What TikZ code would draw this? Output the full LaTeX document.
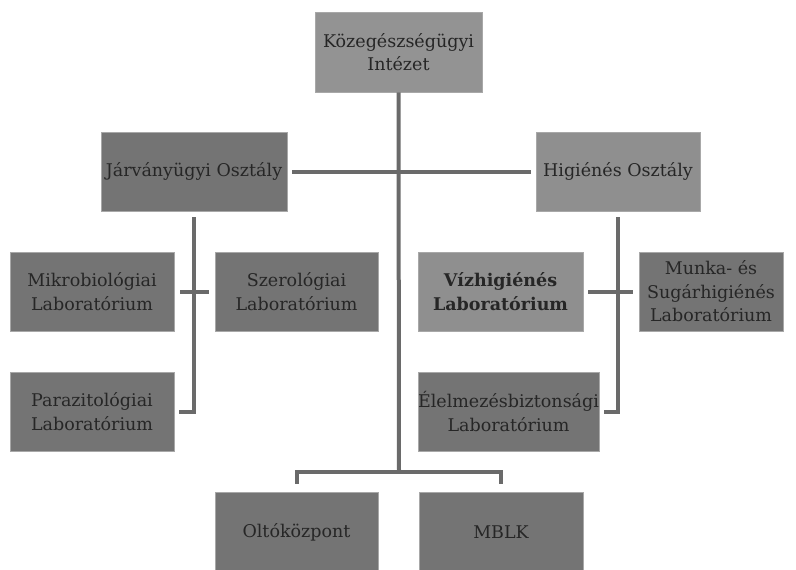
\documentclass[tikz,border=0pt]{standalone}
\usepackage{fontspec}
\setmainfont{DejaVu Serif}
\usetikzlibrary{calc}
\definecolor{boxdark}{HTML}{747474}
\definecolor{boxlight}{HTML}{8F8F8F}
\definecolor{boxtop}{HTML}{939393}
\definecolor{edgegray}{HTML}{A8A8A8}
\definecolor{linegray}{HTML}{6A6A6A}
\definecolor{txt}{HTML}{262626}
\begin{document}
\begin{tikzpicture}[x=1pt,y=-1pt,
  orgbox/.style={draw=edgegray, line width=0.8pt, text=txt, align=center,
    inner sep=0pt, font=\fontsize{17.5}{23.5}\selectfont, anchor=center},
  conn/.style={draw=linegray, line width=4pt, line cap=butt, line join=miter}]
\useasboundingbox (0,0) rectangle (796,570);
\fill[white] (0,0) rectangle (796,570);
\node[orgbox, fill=boxtop, minimum width=167pt, minimum height=80pt] (kozeg) at (398.5,52) {Közegészségügyi\\Intézet};
\node[orgbox, fill=boxdark, minimum width=186pt, minimum height=79pt] (jarv) at (194,171.5) {Járványügyi Osztály};
\node[orgbox, fill=boxlight, minimum width=164pt, minimum height=79pt] (hig) at (618,171.5) {Higiénés Osztály};
\node[orgbox, fill=boxdark, minimum width=164pt, minimum height=79pt] (mikro) at (92,291.5) {Mikrobiológiai\\Laboratórium};
\node[orgbox, fill=boxdark, minimum width=163pt, minimum height=79pt] (szero) at (296.5,291.5) {Szerológiai\\Laboratórium};
\node[orgbox, fill=boxdark, minimum width=164pt, minimum height=79pt] (paraz) at (92,411.5) {Parazitológiai\\Laboratórium};
\node[orgbox, fill=boxlight, minimum width=165pt, minimum height=79pt, font=\fontsize{17.5}{23.5}\selectfont\bfseries] (viz) at (500.5,291.5) {Vízhigiénés\\Laboratórium};
\node[orgbox, fill=boxdark, minimum width=144pt, minimum height=79pt] (munka) at (711,291.5) {Munka- és\\Sugárhigiénés\\Laboratórium};
\node[orgbox, fill=boxdark, minimum width=179pt, minimum height=79pt] (elelm) at (508.5,411.5) {Élelmezésbiztonsági\\Laboratórium};
\node[orgbox, fill=boxdark, minimum width=163pt, minimum height=80pt] (olto) at (296.5,532) {Oltóközpont};
\node[orgbox, fill=boxdark, minimum width=164pt, minimum height=80pt] (mblk) at (501,532) {MBLK};
\coordinate (fork) at (399,472);
\draw[conn] (kozeg.south) -- (fork);
\draw[conn] ([xshift=5pt]jarv.east) -- ([xshift=-5pt]hig.west);
\draw[conn] ([yshift=-6pt]jarv.south) |- ([xshift=5pt]paraz.east);
\draw[conn] ([xshift=6pt]mikro.east) -- ([xshift=-6pt]szero.west);
\draw[conn] ([yshift=-6pt]hig.south) |- ([xshift=5pt]elelm.east);
\draw[conn] ([xshift=5pt]viz.east) -- ([xshift=-6pt]munka.west);
\draw[conn] ([yshift=8pt]olto.north) |- (fork) -| ([yshift=8pt]mblk.north);
\end{tikzpicture}
\end{document}
